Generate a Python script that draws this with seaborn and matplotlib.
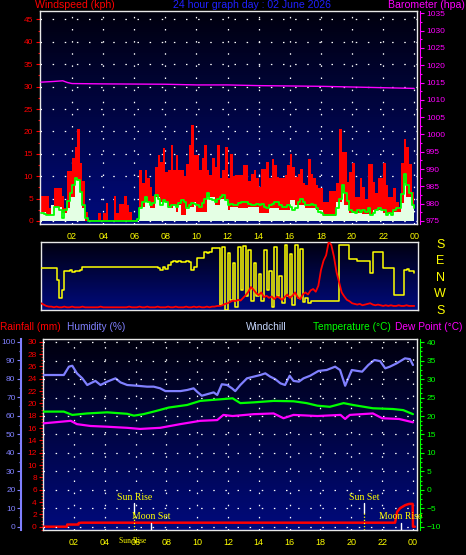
import numpy as np
import matplotlib
matplotlib.use("Agg")
import matplotlib.pyplot as plt
import seaborn as sns
from matplotlib.colors import LinearSegmentedColormap
from matplotlib.ticker import MultipleLocator, FixedLocator, FixedFormatter

sns.set_style("dark")
plt.rcParams['font.family'] = ['Liberation Sans', 'DejaVu Sans']

W, H = 466, 555

# --- Data: 10 minute samples from 00:00 to 24:00 ---
sample_hours = np.arange(145) / 6.0

wind_gust = [5.6, 5.6, 5.6, 3.0, 3.5, 7.4, 7.4, 7.4, 5.6, 3.0,
             11.1, 11.1, 14.0, 16.5, 20.5, 13.0, 9.0, 2.0, 0.3, 0.3,
             0.3, 0.3, 1.7, 0.3, 1.7, 4.0, 0.3, 0.3, 5.6, 1.7,
             3.7, 3.7, 5.6, 3.6, 2.0, 0.3, 0.3, 0.0, 11.4, 8.4,
             11.4, 9.5, 7.6, 5.5, 12.0, 14.7, 13.2, 16.3, 11.0, 11.4,
             17.0, 11.4, 14.7, 11.4, 11.4, 10.0, 12.8, 17.0, 21.4, 14.7,
             14.7, 11.4, 14.0, 17.0, 11.4, 10.3, 14.0, 12.0, 17.0, 9.5,
             11.4, 16.5, 9.5, 15.0, 10.0, 10.2, 10.2, 10.2, 12.5, 12.5,
             9.0, 10.5, 11.4, 9.5, 7.6, 11.7, 11.7, 13.2, 9.5, 13.9,
             12.5, 9.9, 9.5, 9.5, 10.2, 12.5, 15.0, 12.0, 9.9, 10.5,
             11.7, 8.4, 8.0, 13.9, 10.5, 9.5, 8.0, 7.3, 7.3, 4.3,
             4.3, 6.8, 6.8, 6.8, 8.4, 20.5, 15.4, 15.4, 8.8, 11.0,
             13.0, 5.4, 5.4, 9.5, 7.6, 5.0, 12.8, 12.8, 8.8, 6.2,
             9.5, 9.5, 13.0, 8.0, 5.4, 5.4, 7.3, 4.3, 2.8, 13.0,
             18.4, 16.6, 12.8, 6.5, 3.5]

wind_speed = [2.1, 2.1, 1.3, 1.3, 3.6, 3.2, 3.2, 3.2, 1.7, 1.7,
              2.8, 5.4, 5.4, 9.1, 9.1, 6.5, 2.8, 0, 0, 0,
              0, 0, 0, 0, 0, 0, 0, 0, 0, 0,
              0, 0, 0, 0, 0, 0, 0, 0, 3.2, 3.2,
              4.3, 4.3, 2.8, 2.8, 5.4, 5.4, 4.3, 4.3, 4.3, 2.8,
              2.8, 3.6, 2.1, 3.6, 1.3, 1.3, 3.2, 3.2, 3.2, 4.3,
              2.1, 2.1, 2.1, 2.1, 5.4, 5.4, 5.4, 3.6, 3.6, 5.0,
              5.0, 5.0, 2.4, 3.2, 3.2, 3.2, 2.8, 2.8, 2.8, 2.8,
              3.2, 3.2, 3.2, 3.2, 1.7, 1.7, 1.7, 1.7, 2.8, 2.8,
              2.8, 2.8, 2.4, 2.4, 2.4, 2.4, 4.7, 4.7, 3.6, 3.6,
              3.6, 3.6, 2.8, 2.8, 2.8, 2.8, 2.4, 2.4, 2.4, 1.2,
              1.2, 1.2, 1.2, 1.2, 4.3, 4.3, 6.2, 3.6, 3.6, 1.7,
              1.7, 1.7, 1.7, 1.7, 1.5, 1.5, 1.5, 1.5, 2.4, 2.4,
              2.4, 2.4, 1.7, 1.7, 1.7, 1.7, 2.1, 2.1, 2.1, 4.0,
              8.4, 5.4, 5.4, 3.6, 2.4]

wind_avg10 = [1.7, 1.5, 1.3, 1.3, 1.3, 3.2, 3.2, 2.5, 0.6, 2.4,
              4.5, 6.2, 8.0, 9.5, 9.1, 6.5, 3.6, 0.6, 0.1, 0.1,
              0.1, 0.1, 0.1, 0.1, 0.1, 0.1, 0.1, 0.1, 0.1, 0.1,
              0.1, 0.1, 0.1, 0.1, 0.1, 0.1, 0.1, 0.5, 2.8, 4.3,
              5.4, 4.3, 3.6, 4.0, 5.8, 5.0, 3.6, 4.7, 4.3, 3.2,
              3.6, 3.6, 3.2, 4.0, 4.7, 4.3, 2.8, 3.6, 4.0, 3.9,
              3.6, 3.2, 4.0, 5.0, 6.2, 5.0, 4.7, 4.3, 5.0, 5.4,
              5.8, 4.7, 3.6, 3.9, 3.6, 3.6, 4.0, 4.3, 4.3, 4.3,
              3.9, 3.6, 3.6, 3.9, 3.6, 3.9, 3.2, 2.8, 3.6, 3.9,
              4.3, 4.3, 3.6, 3.2, 3.2, 3.6, 3.2, 2.4, 2.8, 4.3,
              5.0, 4.3, 3.6, 3.6, 3.9, 3.6, 2.8, 2.1, 1.7, 1.3,
              1.3, 1.3, 1.3, 1.3, 2.8, 5.0, 8.0, 6.2, 4.5, 2.4,
              2.1, 1.7, 2.4, 2.1, 2.4, 2.1, 2.8, 1.3, 1.7, 2.4,
              2.8, 2.4, 2.4, 1.3, 1.7, 1.3, 2.4, 2.8, 2.8, 6.0,
              10.6, 8.0, 6.2, 3.6, 2.8]

# direction in degrees, wrapped to -180..180 (S at top, N in the middle)
wind_dir = [56, 56, 56, 56, 56, 56, -11, -111, -65, 40,
            35, 44, 30, 40, 35, 44, 62, 62, 62, 62,
            62, 62, 62, 62, 62, 62, 62, 62, 62, 62,
            62, 62, 62, 62, 62, 62, 62, 62, 62, 62,
            62, 62, 62, 62, 62, 55, 44, 60, 50, 70,
            85, 90, 88, 90, 85, 88, 95, 85, 45, 60,
            107, 107, 110, 144, 135, 144, 162, 162, 165, -147,
            170, -175, 135, -120, 80, -160, 170, -65, 175, -100,
            150, -125, 80, -100, 20, -125, 150, -65, 40, -160,
            170, -100, 10, -140, 180, -100, 130, -150, 180, -110,
            160, -130, -110, -140, -125, -125, -125, -125, -125, -125,
            -125, -125, -125, -125, -125, 180, 180, 180, 180, 102,
            102, 102, 95, 95, 95, 95, 95, 29, 144, 144,
            144, 144, 53, 53, 53, 53, -93, -93, -93, -93,
            44, 50, 40, 35, 29]

# red trace of the direction strip (percent of strip height)
dir_strip_red = [9, 7, 5, 4, 4, 3, 4, 3, 3, 4,
                 3, 3, 4, 3, 3, 3, 4, 3, 3, 3,
                 3, 3, 3, 4, 3, 3, 3, 3, 3, 3,
                 3, 3, 3, 3, 4, 3, 3, 3, 4, 3,
                 3, 4, 3, 3, 3, 4, 3, 3, 3, 4,
                 3, 3, 4, 3, 3, 3, 4, 3, 3, 4,
                 3, 4, 3, 3, 4, 3, 4, 4, 5, 5,
                 6, 8, 9, 11, 13, 12, 14, 13, 17, 21,
                 26, 33, 29, 24, 21, 25, 18, 20, 17, 19,
                 15, 19, 17, 14, 18, 22, 17, 20, 25, 18,
                 15, 22, 25, 22, 28, 30, 26, 35, 58, 72,
                 80, 100, 95, 78, 55, 40, 25, 19, 14, 12,
                 9, 8, 7, 8, 6, 7, 8, 9, 7, 6,
                 7, 6, 5, 6, 5, 6, 5, 5, 6, 5,
                 5, 6, 5, 5, 5]

baro_hours = [0, 0.8, 1.4, 1.7, 2.0, 4, 8, 10, 12, 14, 16, 18, 20, 22, 24]
baro_hpa = [1015.1, 1015.3, 1015.5, 1015.0, 1014.7, 1014.6, 1014.5, 1014.3,
            1014.3, 1014.1, 1014.0, 1013.9, 1013.7, 1013.5, 1013.3]

rain_hours = [0, 1.55, 1.57, 2.3, 2.32, 2.5, 22.84, 22.97, 23.16, 23.5, 23.75, 23.98, 24.0, 24.12]
rain_mm = [0, 0, 0.35, 0.35, 0.6, 0.65, 0.65, 2.4, 3.0, 3.5, 3.7, 3.7, 0, 0]

hum_hours = [0, 1.35, 1.68, 1.9, 2.2, 2.55, 2.87, 3.08, 3.4, 3.73, 4.16, 4.7, 5.03, 5.46,
             6.1, 6.75, 7.18, 7.6, 7.94, 8.91, 9.35, 9.77, 9.99, 10.3, 10.6, 11.07, 11.3,
             11.6, 11.94, 12.26, 12.47, 12.8, 13.23, 13.66, 14.1, 14.42, 14.74, 15.06,
             15.4, 15.7, 16.0, 16.25, 16.6, 16.9, 17.33, 17.87, 18.4, 18.95, 19.27, 19.6,
             19.8, 20.03, 20.7, 21.1, 21.5, 21.87, 22.2, 22.5, 22.94, 23.48, 23.8, 24.0]
hum_pct = [82.0, 82.0, 86.5, 87.0, 82.9, 80.2, 76.6, 77.5, 78.8, 76.6, 78.4, 80.2, 78.0, 76.6,
           76.2, 75.7, 75.7, 74.8, 73.3, 73.3, 73.9, 74.8, 73.0, 70.8, 71.5, 72.6, 71.2,
           77.0, 76.6, 74.8, 73.3, 76.6, 80.2, 81.1, 82.0, 82.9, 81.1, 79.8,
           77.5, 76.6, 81.6, 78.8, 78.4, 80.2, 81.6, 84.2, 84.7, 86.5, 84.7, 76.2,
           80.2, 84.7, 83.8, 87.4, 90.1, 89.5, 85.6, 86.5, 88.3, 91.0, 90.6, 87.4]

temp_hours = [0, 1.35, 1.9, 2.87, 4.16, 5.46, 5.9, 6.5, 7.18, 8.16, 9.35, 10.2, 11.07, 11.7,
              12.3, 12.8, 13.66, 14.96, 16.25, 17.1, 17.8, 18.6, 19.5, 20.1, 21.4, 22.7, 23.37, 24.0]
temp_c = [21.2, 21.2, 20.3, 20.7, 21.0, 20.6, 20.1, 20.5, 21.2, 22.3, 23.0, 24.1, 24.4, 24.6,
          24.8, 23.5, 23.7, 24.1, 24.0, 23.5, 22.8, 22.5, 23.5, 23.0, 22.1, 21.9, 21.6, 20.5]

dew_hours = [0, 1.8, 2.2, 3.08, 4.16, 5.46, 6.3, 7.6, 8.9, 10.2, 11.3, 11.7, 12.3, 13.66,
             14.96, 15.6, 16.25, 17.8, 19.3, 19.6, 19.9, 21.4, 22.0, 23.1, 23.8, 24.0]
dew_c = [18.0, 18.7, 17.8, 17.3, 17.1, 16.8, 16.5, 16.8, 17.8, 18.7, 18.9, 20.3, 20.0, 20.5,
         20.7, 19.4, 20.3, 20.0, 20.3, 19.2, 20.3, 20.7, 19.4, 19.2, 18.5, 18.3]

hour_ticks = [2, 4, 6, 8, 10, 12, 14, 16, 18, 20, 22, 24]
hour_labels = ['02', '04', '06', '08', '10', '12', '14', '16', '18', '20', '22', '00']

sun_events = ['Sun Rise', 'Sun Set']
sun_hours = [5.93, 20.85]
moon_events = ['Moon Set', 'Moon Rise']
moon_hours = [7.01, 23.2]

compass_labels = ['S', 'E', 'N', 'W', 'S']
compass_deg = [180, 90, 0, -90, -180]

# --- Style helpers ---
sky = LinearSegmentedColormap.from_list('sky', ['#00000e', '#000a7c'])
YELLOW = '#ffff00'


def px_axes(fig, left, top, right, bottom):
    return fig.add_axes([left / W, 1 - bottom / H, (right - left) / W, (bottom - top) / H])


def paint_sky(ax, xlim, ylim):
    grad = np.linspace(0, 1, 128).reshape(-1, 1)
    ax.imshow(grad, cmap=sky, extent=(xlim[0], xlim[1], ylim[0], ylim[1]),
              aspect='auto', origin='upper', zorder=0, interpolation='bilinear')
    ax.set_xlim(xlim)
    ax.set_ylim(ylim)


def white_frame(ax, lw=1.0):
    for s in ax.spines.values():
        s.set_color('#e8e8e8')
        s.set_linewidth(lw)
        s.set_visible(True)


dots = (0, (1.2, 8.5))

fig = plt.figure(figsize=(W / 100, H / 100), dpi=100, facecolor='black')

# ================= Wind / barometer panel =================
ax_w = px_axes(fig, 39.5, 10.5, 417, 224)
paint_sky(ax_w, (-0.096, 24.18), (-0.67, 47.0))
ax_w.fill_between(sample_hours, wind_gust, step='post', color='#ff0000', lw=0, zorder=2)
ax_w.fill_between(sample_hours, wind_speed, step='post', color='#e4ffe4', lw=0, zorder=3)
sns.lineplot(x=sample_hours, y=wind_avg10, ax=ax_w, color='#00ff00', lw=1.3,
             drawstyle='steps-post', zorder=4)
ax_w.set_axisbelow(True)
ax_w.xaxis.set_major_locator(FixedLocator(hour_ticks))
ax_w.xaxis.set_major_formatter(FixedFormatter(hour_labels))
ax_w.xaxis.set_minor_locator(MultipleLocator(0.5))
ax_w.yaxis.set_major_locator(MultipleLocator(5))
ax_w.yaxis.set_minor_locator(MultipleLocator(2.5))
ax_w.grid(True, which='major', color='white', linestyle=dots, linewidth=0.9)
ax_w.tick_params(axis='x', which='major', length=4, width=0.8, color='#c0c0c0',
                 labelcolor=YELLOW, labelsize=6.5, pad=2)
ax_w.tick_params(axis='x', which='minor', length=2, width=0.8, color='#c0c0c0')
ax_w.tick_params(axis='y', which='major', length=3, width=0.8, color='red',
                 labelcolor='red', labelsize=6, pad=1.5)
ax_w.tick_params(axis='y', which='minor', length=1.5, width=0.8, color='red')
ax_w.set_ylabel('')
white_frame(ax_w)

ax_b = ax_w.twinx()
sns.lineplot(x=baro_hours, y=baro_hpa, ax=ax_b, color='#ff00ff', lw=1.0)
ax_b.set_ylim(974.13, 1035.8)
ax_b.yaxis.set_major_locator(MultipleLocator(5))
ax_b.yaxis.set_minor_locator(MultipleLocator(2.5))
ax_b.tick_params(axis='y', which='major', length=3, width=0.8, color='#ff00ff',
                 labelcolor='#ff00ff', labelsize=6, pad=1.5)
ax_b.tick_params(axis='y', which='minor', length=1.5, width=0.8, color='#ff00ff')
for side in ['left', 'top', 'bottom']:
    ax_b.spines[side].set_visible(False)
ax_b.spines['right'].set_color('#ff00ff')
ax_b.spines['right'].set_position(('outward', 2))
ax_b.set_ylabel('')

# ================= Direction strip =================
ax_d = px_axes(fig, 41, 241.7, 417.7, 310)
paint_sky(ax_d, (0, 24.22), (-176, 198))
sns.lineplot(x=sample_hours, y=wind_dir, ax=ax_d, color=YELLOW, lw=1.1,
             drawstyle='steps-post', zorder=3)
ax_d.set_xticks([])
ax_d.set_yticks([])
ax_d.set_xlabel('')
ax_d.set_ylabel('')
white_frame(ax_d)

ax_dr = ax_d.twinx()
sns.lineplot(x=sample_hours, y=dir_strip_red, ax=ax_dr, color='#ff0000', lw=1.3)
ax_dr.set_ylim(-1, 100)
ax_dr.set_yticks([])
ax_dr.set_ylabel('')
for s in ax_dr.spines.values():
    s.set_visible(False)

for lab, deg in zip(compass_labels, compass_deg):
    ax_d.text(24.22 + 1.45, deg, lab, color=YELLOW, fontsize=9, ha='center',
              va='center', clip_on=False)

# ================= Rain / humidity / temperature panel =================
ax_r = px_axes(fig, 42.7, 339.3, 417.3, 530)
paint_sky(ax_r, (-0.02, 24.28), (-0.535, 30.39))
sns.lineplot(x=rain_hours, y=rain_mm, ax=ax_r, color='#ff0000', lw=1.8, zorder=3)
ax_r.set_axisbelow(True)
ax_r.xaxis.set_major_locator(FixedLocator(hour_ticks))
ax_r.xaxis.set_major_formatter(FixedFormatter(hour_labels))
ax_r.xaxis.set_minor_locator(MultipleLocator(0.5))
ax_r.yaxis.set_major_locator(MultipleLocator(2))
ax_r.yaxis.set_minor_locator(MultipleLocator(0.5))
ax_r.grid(True, axis='x', which='major', color='white', linestyle=dots, linewidth=0.9)
ax_r.grid(False, axis='y')
ax_r.tick_params(axis='x', which='major', length=4, width=0.8, color='#c0c0c0',
                 labelcolor=YELLOW, labelsize=6.5, pad=2)
ax_r.tick_params(axis='x', which='minor', length=2, width=0.8, color='#c0c0c0')
ax_r.tick_params(axis='y', which='major', length=3, width=0.8, color='red',
                 labelcolor='red', labelsize=6, pad=1.2)
ax_r.tick_params(axis='y', which='minor', length=1.5, width=0.6, color='red')
ax_r.set_xlabel('')
ax_r.set_ylabel('')
white_frame(ax_r)

ax_h = ax_r.twinx()
sns.lineplot(x=hum_hours, y=hum_pct, ax=ax_h, color='#8080ff', lw=1.6, zorder=3)
ax_h.set_ylim(-1.78, 101.3)
ax_h.yaxis.tick_left()
ax_h.yaxis.set_label_position('left')
ax_h.yaxis.set_major_locator(MultipleLocator(10))
ax_h.yaxis.set_minor_locator(MultipleLocator(5))
ax_h.tick_params(axis='y', which='major', length=3, width=0.8, color='#8080ff',
                 labelcolor='#8080ff', labelsize=6, pad=1.2)
ax_h.tick_params(axis='y', which='minor', length=1.5, width=0.8, color='#8080ff')
for side in ['right', 'top', 'bottom']:
    ax_h.spines[side].set_visible(False)
ax_h.spines['left'].set_position(('outward', 15.4))
ax_h.spines['left'].set_color('#8080ff')
ax_h.spines['left'].set_linewidth(1.5)
ax_h.set_ylabel('')

ax_t = ax_r.twinx()
sns.lineplot(x=temp_hours, y=temp_c, ax=ax_t, color='#00ff00', lw=1.6, zorder=3)
sns.lineplot(x=dew_hours, y=dew_c, ax=ax_t, color='#ff00ff', lw=1.6, zorder=3)
ax_t.set_ylim(-10.9, 40.8)
ax_t.yaxis.set_major_locator(MultipleLocator(5))
ax_t.yaxis.set_minor_locator(MultipleLocator(1.25))
ax_t.grid(True, axis='y', which='major', color='white', linestyle=dots, linewidth=0.9)
ax_t.set_axisbelow(True)
ax_t.tick_params(axis='y', which='major', length=3, width=0.8, color='#00ff00',
                 labelcolor='#00ff00', labelsize=6, pad=1.5)
ax_t.tick_params(axis='y', which='minor', length=1.5, width=0.8, color='#00ff00')
for side in ['left', 'top', 'bottom']:
    ax_t.spines[side].set_visible(False)
ax_t.spines['right'].set_color('#00ff00')
ax_t.spines['right'].set_position(('outward', 2))
ax_t.set_ylabel('')

# sun / moon markers (humidity units for vertical placement)
for name, hr in zip(sun_events, sun_hours):
    ax_h.plot([hr, hr], [12.8, 7.5], color='white', lw=1.0, zorder=5)
    ax_h.plot([hr, hr], [7.5, -1.78], color=YELLOW, lw=0.9, linestyle=(0, (1, 1.5)), zorder=5)
    ax_h.text(hr, 16, name, color=YELLOW, fontsize=7, ha='center', va='center',
              family=['Liberation Serif', 'DejaVu Serif'], zorder=6, clip_on=False)
for name, hr in zip(moon_events, moon_hours):
    ax_h.plot([hr, hr], [2.0, -1.78], color='white', lw=1.0, zorder=5)
    ax_h.text(hr, 5.4, name, color=YELLOW, fontsize=7, ha='center', va='center',
              family=['Liberation Serif', 'DejaVu Serif'], zorder=6, clip_on=False)
fig.text(132.5 / W, 1 - 541 / H, sun_events[0], color=YELLOW, fontsize=5.5,
         ha='center', va='center', family=['Liberation Serif', 'DejaVu Serif'])

# --- header and legend texts ---
fig.text(75 / W, 1 - 5.5 / H, 'Windspeed (kph)', color='#ff0000', fontsize=7.6,
         ha='center', va='center')
fig.text(251.7 / W, 1 - 5.5 / H, '24 hour graph day : 02 June 2026', color='#2020ff',
         fontsize=7.6, ha='center', va='center')
fig.text(465 / W, 1 - 5.5 / H, 'Barometer (hpa)', color='#ff00ff', fontsize=7.6,
         ha='right', va='center')

legend_y = 1 - 326.7 / H
fig.text(0 / W, legend_y, 'Rainfall (mm)', color='#ff0000', fontsize=7.3, ha='left', va='center')
fig.text(67 / W, legend_y, 'Humidity (%)', color='#8080ff', fontsize=7.3, ha='left', va='center')
fig.text(246 / W, legend_y, 'Windchill', color='#c8d8ff', fontsize=7.3, ha='left', va='center')
fig.text(313 / W, legend_y, 'Temperature (°C)', color='#00ff00', fontsize=7.3, ha='left', va='center')
fig.text(462 / W, legend_y, 'Dew Point (°C)', color='#ff00ff', fontsize=7.3, ha='right', va='center')

fig.savefig('out.png', dpi=100, facecolor='black')
